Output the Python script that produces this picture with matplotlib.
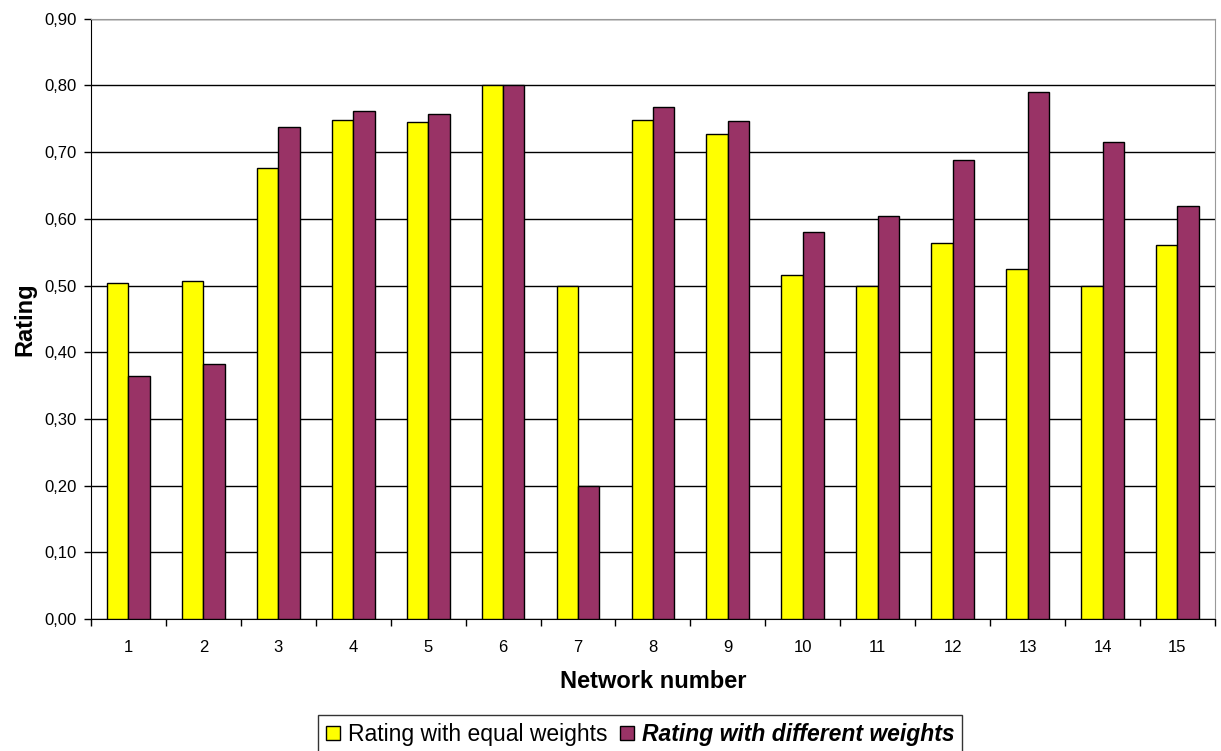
import numpy as np
import matplotlib.pyplot as plt
from matplotlib.ticker import FixedLocator, FuncFormatter

plt.rcParams['font.family'] = ['Liberation Sans', 'DejaVu Sans']

networks = list(range(1, 16))
equal_weights = [0.504, 0.507, 0.676, 0.748, 0.745, 0.800, 0.500, 0.748,
                 0.727, 0.516, 0.500, 0.564, 0.525, 0.500, 0.561]
different_weights = [0.365, 0.383, 0.738, 0.761, 0.757, 0.800, 0.200, 0.767,
                     0.746, 0.581, 0.605, 0.688, 0.790, 0.715, 0.619]

yellow = '#ffff00'
plum = '#993366'

fig = plt.figure(figsize=(12.21, 7.51), dpi=100)
ax = fig.add_axes([0.0745, 0.1758, 0.9205, 0.7992])

x = np.arange(len(networks))
w = 1 / 3.5  # gap width 150%
ax.bar(x - w / 2, equal_weights, w, color=yellow, edgecolor='black', linewidth=1.0, zorder=3,
       label='Rating with equal weights')
ax.bar(x + w / 2, different_weights, w, color=plum, edgecolor='black', linewidth=1.0, zorder=3,
       label='Rating with different weights')

ax.set_xlim(-0.5, len(networks) - 0.5)
ax.set_ylim(0, 0.9)
ax.set_yticks(np.arange(0, 0.91, 0.1))
ax.yaxis.set_major_formatter(FuncFormatter(lambda v, p: f'{v:.2f}'.replace('.', ',')))
ax.yaxis.grid(True, color='black', linewidth=1.0, zorder=0)
ax.set_axisbelow(True)

# category labels centred, tick marks on category boundaries
ax.set_xticks(x)
ax.set_xticklabels([str(n) for n in networks])
ax.tick_params(axis='x', which='major', length=0, pad=15, labelsize=12)
ax.xaxis.set_minor_locator(FixedLocator(np.arange(-0.5, len(networks), 1)))
ax.tick_params(axis='x', which='minor', length=5, direction='out', width=1)
ax.tick_params(axis='y', length=5, direction='out', width=1, labelsize=12, pad=5)

for side in ['top', 'right']:
    ax.spines[side].set_color('#999999')
for side in ['left', 'bottom']:
    ax.spines[side].set_color('black')

ax.set_xlabel('Network number', fontsize=17, fontweight='bold', labelpad=11)
ax.set_ylabel('Rating', fontsize=17, fontweight='bold', labelpad=6)

leg = fig.legend(loc='upper left', bbox_to_anchor=(318 / 1221, 1 - 715 / 751), ncol=2,
                 frameon=True, fancybox=False, edgecolor='black', fontsize=16.5,
                 handlelength=0.6, handleheight=0.6, handletextpad=0.35, columnspacing=0.55,
                 borderpad=0.35, borderaxespad=0)
leg.get_frame().set_linewidth(1.0)
leg.get_texts()[1].set_fontweight('bold')
leg.get_texts()[1].set_fontstyle('italic')

fig.savefig('out.png', dpi=100)
